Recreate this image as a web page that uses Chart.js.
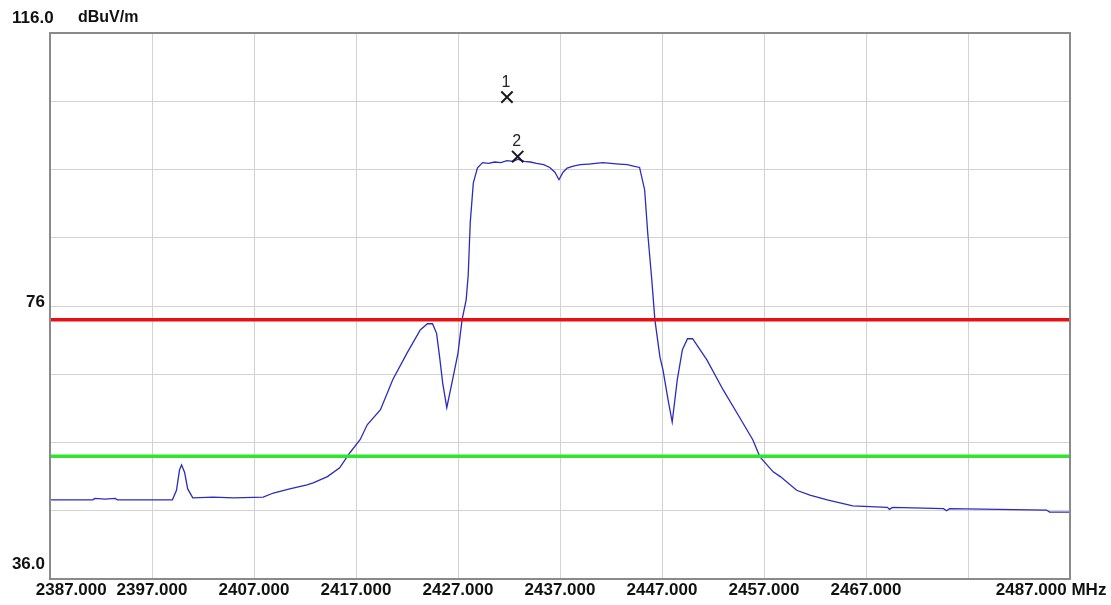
<!DOCTYPE html>
<html>
<head>
<meta charset="utf-8">
<script src="https://cdn.jsdelivr.net/npm/chart.js@4.4.1/dist/chart.umd.min.js"></script>
<style>
  html, body { margin: 0; padding: 0; background: #ffffff; }
  #wrap { width: 1111px; height: 605px; }
</style>
</head>
<body>
<div id="wrap"><canvas id="c" width="1111" height="605"></canvas></div>
<script>
// Measured field strength trace (frequency in MHz, level in dBuV/m)
const freqMHz = [
  2387.0, 2391.2, 2391.4, 2392.4, 2393.4, 2393.6, 2399.0, 2399.4, 2399.7, 2399.9,
  2400.2, 2400.5, 2401.0, 2403.0, 2405.0, 2407.9, 2408.9, 2410.5, 2412.2, 2412.8,
  2414.2, 2415.4, 2416.4, 2417.4, 2418.1, 2419.4, 2420.6, 2422.0, 2423.3, 2424.0,
  2424.5, 2424.9, 2425.2, 2425.5, 2425.9, 2426.4, 2427.0, 2427.4, 2427.8, 2428.0,
  2428.2, 2428.5, 2428.9, 2429.4, 2430.0, 2430.6, 2431.2, 2431.8, 2432.4, 2432.9,
  2433.5, 2434.1, 2434.7, 2435.4, 2436.0, 2436.5, 2436.9, 2437.3, 2437.7, 2438.3,
  2439.0, 2439.8, 2440.5, 2441.2, 2442.0, 2442.8, 2443.6, 2444.2, 2444.8, 2445.3,
  2445.6, 2446.0, 2446.3, 2446.8, 2447.1, 2447.6, 2448.0, 2448.5, 2449.0, 2449.5,
  2450.0, 2451.4, 2453.0, 2454.6, 2455.9, 2456.6, 2457.9, 2458.6, 2460.2, 2461.5,
  2463.2, 2465.7, 2469.1, 2469.3, 2469.6, 2474.6, 2474.9, 2475.2, 2484.7, 2485.0,
  2487.0
];
const levelDb = [
  47.6, 47.6, 47.8, 47.7, 47.8, 47.6, 47.6, 49.0, 52.0, 52.7,
  51.6, 49.2, 47.9, 48.0, 47.9, 48.0, 48.6, 49.2, 49.8, 50.1,
  51.0, 52.3, 54.5, 56.4, 58.6, 60.8, 65.2, 69.1, 72.5, 73.4,
  73.4, 72.0, 68.5, 64.7, 61.1, 64.7, 69.1, 74.0, 76.9, 80.5,
  88.2, 94.0, 96.2, 97.0, 96.9, 97.1, 97.0, 97.3, 97.2, 97.5,
  97.2, 97.1, 96.9, 96.7, 96.3, 95.6, 94.5, 95.6, 96.2, 96.5,
  96.7, 96.8, 96.9, 97.0, 96.9, 96.8, 96.7, 96.5, 96.3, 93.0,
  86.7, 79.8, 74.0, 68.5, 66.6, 62.2, 59.0, 65.2, 69.6, 71.2,
  71.2, 68.1, 63.7, 59.7, 56.4, 53.9, 51.7, 51.0, 49.0, 48.3,
  47.6, 46.7, 46.5, 46.2, 46.5, 46.3, 46.0, 46.3, 46.1, 45.8,
  45.8
];

// Limit lines (dBuV/m)
const peakLimit = 74;
const avgLimit = 54;

// Markers
const markerNames = ['1', '2'];
const markerFreq = [2431.8, 2432.85];
const markerLevel = [106.6, 97.9];

// Axis range and labels
const freqStart = 2387, freqStop = 2487, freqStep = 10;
const levelMin = 36, levelMax = 116, levelStep = 10;
const xTickLabels = ['2387.000', '2397.000', '2407.000', '2417.000', '2427.000',
  '2437.000', '2447.000', '2457.000', '2467.000', '', '2487.000 MHz'];
const yTickLabels = { 76: '76', 36: '36.0' };
const headerTop = '116.0';
const unitLabel = 'dBuV/m';

const FONT = '"Liberation Sans", Arial, sans-serif';

const traceData = freqMHz.map((f, i) => ({ x: f, y: levelDb[i] }));
const markerData = markerFreq.map((f, i) => ({ x: f, y: markerLevel[i] }));
const hLine = v => [{ x: freqStart, y: v }, { x: freqStop, y: v }];

const frameAndNotes = {
  id: 'frameAndNotes',
  afterDatasetsDraw(chart) {
    const { ctx, chartArea: a } = chart;
    ctx.save();
    ctx.strokeStyle = '#8a8a8a';
    ctx.lineWidth = 2;
    ctx.strokeRect(a.left, a.top, a.right - a.left, a.bottom - a.top);
    const meta = chart.getDatasetMeta(2);
    ctx.font = '16px ' + FONT;
    ctx.fillStyle = '#222222';
    ctx.textAlign = 'center';
    ctx.textBaseline = 'middle';
    meta.data.forEach((pt, i) => ctx.fillText(markerNames[i], pt.x - 1, pt.y - 15));
    ctx.restore();
  },
  afterDraw(chart) {
    const { ctx } = chart;
    ctx.save();
    ctx.fillStyle = '#111111';
    ctx.textAlign = 'left';
    ctx.textBaseline = 'middle';
    ctx.font = 'bold 17px ' + FONT;
    ctx.fillText(headerTop, 12, 18);
    ctx.font = 'bold 16px ' + FONT;
    ctx.fillText(unitLabel, 78, 18);
    ctx.restore();
  }
};

new Chart(document.getElementById('c'), {
  type: 'line',
  data: {
    datasets: [
      { data: hLine(peakLimit), borderColor: '#e81010', borderWidth: 3.5, pointRadius: 0 },
      { data: hLine(avgLimit), borderColor: '#2ee62e', borderWidth: 3.5, pointRadius: 0 },
      { data: markerData, showLine: false, pointStyle: 'crossRot', pointRadius: 8,
        pointBorderColor: '#1a1a1a', pointBorderWidth: 2, pointBackgroundColor: '#1a1a1a' },
      { data: traceData, borderColor: '#2c2cbc', borderWidth: 1.3, pointRadius: 0, tension: 0 }
    ]
  },
  options: {
    responsive: false,
    animation: false,
    devicePixelRatio: 1,
    layout: { padding: { left: 0, top: 33, right: 41, bottom: 0 } },
    plugins: { legend: { display: false }, tooltip: { enabled: false } },
    scales: {
      x: {
        type: 'linear',
        min: freqStart, max: freqStop,
        border: { display: false },
        grid: { color: '#d2d2d2', lineWidth: 1, drawTicks: false },
        ticks: {
          stepSize: freqStep,
          autoSkip: false, maxRotation: 0, minRotation: 0,
          padding: 1,
          color: '#111111',
          font: { family: FONT, size: 17, weight: 'bold' },
          callback: (v, i) => {
            const s = xTickLabels[i];
            if (i === 0) return ' '.repeat(9) + s;
            if (i === xTickLabels.length - 1) return s + ' '.repeat(8);
            return s;
          }
        },
        afterFit: s => { s.height = 26; s.paddingLeft = 0; s.paddingRight = 0; }
      },
      y: {
        min: levelMin, max: levelMax,
        border: { display: false },
        grid: { color: '#d2d2d2', lineWidth: 1, drawTicks: false },
        ticks: {
          stepSize: levelStep,
          padding: 5,
          color: '#111111',
          font: ctx => ({ family: FONT, size: 17, weight: 'bold',
            lineHeight: ctx.tick && ctx.tick.value === 76 ? '8px' : '30px' }),
          callback: v => (yTickLabels[v] ? [yTickLabels[v], ''] : '')
        },
        afterFit: s => { s.width = 50; s.paddingTop = 0; s.paddingBottom = 0; }
      }
    }
  },
  plugins: [frameAndNotes]
});
</script>
</body>
</html>
